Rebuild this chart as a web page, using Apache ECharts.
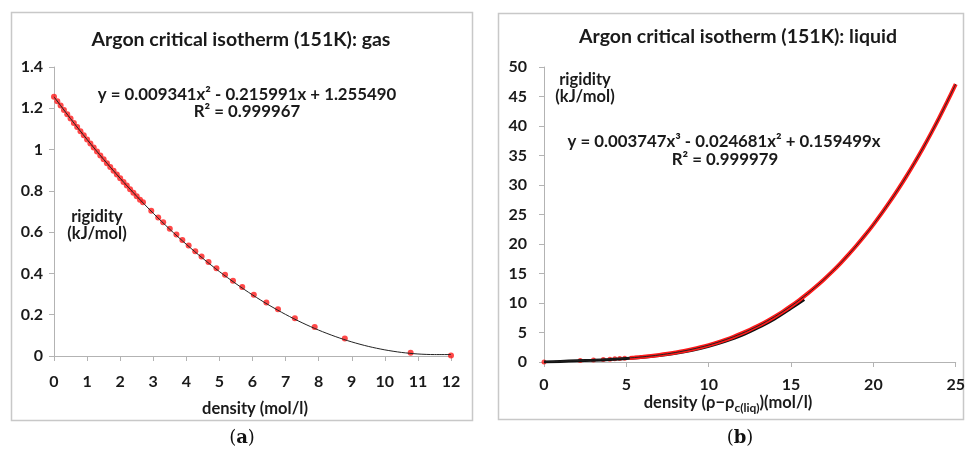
<!DOCTYPE html>
<html>
<head>
<meta charset="utf-8">
<script src="https://cdn.jsdelivr.net/npm/echarts@6/dist/echarts.min.js"></script>
<style>
  html, body { margin: 0; padding: 0; background: #fff; }
  #main { width: 968px; height: 452px; }
</style>
</head>
<body>
<div id="main"></div>
<script>
// (a) gas side: rigidity points
const gasX = [0, 0.1, 0.2, 0.3, 0.4, 0.5, 0.6, 0.7, 0.8, 0.9, 1.0, 1.1, 1.2, 1.3, 1.4, 1.5, 1.6, 1.7, 1.8, 1.9, 2.0, 2.1, 2.2, 2.3, 2.4, 2.5, 2.6,
  2.69, 2.94, 3.15, 3.30, 3.50, 3.70, 3.88, 4.07, 4.27, 4.46, 4.67, 4.91, 5.17, 5.41, 5.69, 6.04, 6.42, 6.77, 7.28, 7.88, 8.79, 10.78, 12.0];
const gasY = [1.256, 1.234, 1.213, 1.192, 1.171, 1.150, 1.129, 1.109, 1.089, 1.069, 1.049, 1.029, 1.010, 0.991, 0.971, 0.953, 0.934, 0.915, 0.897, 0.879, 0.861, 0.843, 0.826, 0.808, 0.791, 0.774, 0.757,
  0.745, 0.704, 0.671, 0.648, 0.617, 0.588, 0.562, 0.535, 0.507, 0.482, 0.455, 0.425, 0.393, 0.365, 0.334, 0.297, 0.259, 0.227, 0.183, 0.141, 0.085, 0.016, 0.002];
// fitted trendline (a)
const gasTrendX = [0, 0.5, 1, 1.5, 2, 2.5, 3, 3.5, 4, 4.5, 5, 5.5, 6, 6.5, 7, 7.5, 8, 8.5, 9, 9.5, 10, 10.5, 11, 11.5, 12];
const gasTrendY = [1.2555, 1.1498, 1.0488, 0.9525, 0.8609, 0.7739, 0.6916, 0.6139, 0.5410, 0.4727, 0.4090, 0.3502, 0.2959, 0.2463, 0.2013, 0.1610, 0.1254, 0.0945, 0.0682, 0.0466, 0.0297, 0.0174, 0.0098, 0.0069, 0.0069];

// (b) liquid side
const liqSparseX = [0, 2.2, 3.0, 3.6, 4.0, 4.3, 4.6, 4.9];
const liqSparseY = [0, 0.27, 0.36, 0.43, 0.48, 0.53, 0.58, 0.63];
const liqX = [5.2, 5.5, 6, 6.5, 7, 7.5, 8, 8.5, 9, 9.5, 10, 10.5, 11, 11.5, 12, 12.5, 13, 13.5, 14, 14.5, 15, 15.5, 16, 16.5,
  17, 17.5, 18, 18.5, 19, 19.5, 20, 20.5, 21, 21.5, 22, 22.5, 23, 23.5, 24, 24.5, 25];
const liqY = [0.69, 0.75, 0.88, 1.02, 1.19, 1.39, 1.62, 1.87, 2.17, 2.50, 2.87, 3.29, 3.76, 4.27, 4.84, 5.46, 6.13, 6.87, 7.68, 8.55, 9.49, 10.50, 11.58, 12.75,
  13.99, 15.31, 16.73, 18.23, 19.82, 21.51, 23.29, 25.18, 27.17, 29.26, 31.46, 33.78, 36.20, 38.75, 41.41, 44.20, 47.11];
// darker data band, slightly under the red points
const liqDarkX = [0, 1, 2, 3, 4, 5, 6, 7, 8, 9, 10, 11, 12, 13, 14, 15, 15.8];
const liqDarkY = [0, 0.1, 0.2, 0.3, 0.42, 0.58, 0.8, 1.08, 1.48, 2.0, 2.66, 3.5, 4.5, 5.8, 7.3, 9.1, 10.6];
// fitted trendline (b)
const liqTrendX = [0, 1, 2, 3, 4, 5, 6, 7, 8, 9, 10, 11, 12, 13, 14, 15, 16, 17, 18, 19, 20, 21, 22, 23, 24, 25];
const liqTrendY = [0, 0.14, 0.25, 0.36, 0.48, 0.65, 0.88, 1.19, 1.62, 2.17, 2.87, 3.76, 4.84, 6.13, 7.68, 9.49, 11.58, 13.99, 16.73, 19.82, 23.29, 27.17, 31.46, 36.20, 41.41, 47.11];

const FONT = 'Lato';
const zip = (xs, ys) => xs.map((x, i) => [x, ys[i]]);

let chart = echarts.init(document.getElementById('main'), null, { renderer: 'canvas' });

function axisStyle(extra, margin) {
  return Object.assign({
    type: 'value',
    splitLine: { show: false },
    axisLine: { show: true, lineStyle: { color: '#b3b3b3', width: 1 } },
    axisTick: { show: true, length: 5, lineStyle: { color: '#b3b3b3' } },
    axisLabel: { color: '#1a1a1a', fontFamily: FONT, fontWeight: 'bold', fontSize: 16, margin: margin }
  }, extra);
}

function txt(x, y, text, size, extra) {
  return {
    type: 'text', x: x, y: y,
    style: Object.assign({
      text: text, fontFamily: FONT, fontWeight: 'bold', fontSize: size,
      fill: '#1a1a1a', align: 'center', verticalAlign: 'middle'
    }, extra || {})
  };
}

let option = {
  animation: false,
  grid: [
    { left: 54, top: 67, width: 397, height: 289 },
    { left: 544, top: 67, width: 412, height: 295 }
  ],
  xAxis: [
    axisStyle({ gridIndex: 0, min: 0, max: 12, interval: 1 }, 18),
    axisStyle({ gridIndex: 1, min: 0, max: 25, interval: 5 }, 15)
  ],
  yAxis: [
    axisStyle({ gridIndex: 0, min: 0, max: 1.4, interval: 0.2 }, 11),
    axisStyle({ gridIndex: 1, min: 0, max: 50, interval: 5 }, 17)
  ],
  series: [
    {
      name: 'gas', type: 'scatter', xAxisIndex: 0, yAxisIndex: 0,
      data: zip(gasX, gasY), symbolSize: 6,
      itemStyle: { color: '#ff1a1a' }
    },
    {
      name: 'gas fit', type: 'line', xAxisIndex: 0, yAxisIndex: 0,
      data: zip(gasTrendX, gasTrendY), showSymbol: false, smooth: 0.3,
      lineStyle: { color: '#222', width: 1 }
    },
    {
      name: 'liquid dark', type: 'line', xAxisIndex: 1, yAxisIndex: 1,
      data: zip(liqDarkX, liqDarkY), showSymbol: false, smooth: 0.3,
      lineStyle: { color: '#111', width: 3 }
    },
    {
      name: 'liquid sparse', type: 'scatter', xAxisIndex: 1, yAxisIndex: 1,
      data: zip(liqSparseX, liqSparseY), symbolSize: 5,
      itemStyle: { color: '#ff1a1a' }
    },
    {
      name: 'liquid', type: 'line', xAxisIndex: 1, yAxisIndex: 1,
      data: zip(liqX, liqY), showSymbol: false, smooth: 0.3,
      lineStyle: { color: '#ff1a1a', width: 4 }
    },
    {
      name: 'liquid fit', type: 'line', xAxisIndex: 1, yAxisIndex: 1,
      data: zip(liqTrendX, liqTrendY), showSymbol: false, smooth: 0.3,
      lineStyle: { color: '#222', width: 1 }
    }
  ],
  graphic: [
    { type: 'rect', shape: { x: 11.5, y: 12.5, width: 461, height: 408 }, style: { fill: 'none', stroke: '#c8c8c8', lineWidth: 1.5 }, z: -1 },
    { type: 'rect', shape: { x: 498.5, y: 13.5, width: 465, height: 406 }, style: { fill: 'none', stroke: '#c8c8c8', lineWidth: 1.5 }, z: -1 },

    txt(241, 40, 'Argon critical isotherm (151K): gas', 19.5),
    txt(247, 95, 'y = 0.009341x² - 0.215991x + 1.255490', 16.8),
    txt(247, 112, 'R² = 0.999967', 16.8),
    txt(97, 217, 'rigidity', 16.5),
    txt(97, 234, '(kJ/mol)', 16.5),
    txt(255, 409, 'density (mol/l)', 16.5),

    txt(738, 37, 'Argon critical isotherm (151K): liquid', 19.5),
    txt(585, 80, 'rigidity', 16.5),
    txt(585, 97, '(kJ/mol)', 16.5),
    txt(724, 142, 'y = 0.003747x³ - 0.024681x² + 0.159499x', 16.8),
    txt(725, 160, 'R² = 0.999979', 16.8),
    {
      type: 'text', x: 728, y: 403,
      style: {
        text: '{a|density (ρ−ρ}{s|c(liq)}{a|)(mol/l)}',
        align: 'center', verticalAlign: 'middle',
        rich: {
          a: { fontFamily: FONT, fontWeight: 'bold', fontSize: 16.5, fill: '#1a1a1a', lineHeight: 22, verticalAlign: 'middle' },
          s: { fontFamily: FONT, fontWeight: 'bold', fontSize: 12, fill: '#1a1a1a', lineHeight: 22, verticalAlign: 'bottom', padding: [8, 0, 0, 0] }
        }
      }
    },

    {
      type: 'text', x: 242, y: 438,
      style: {
        text: '{p|(}{b|a}{p|)}', align: 'center', verticalAlign: 'middle',
        rich: {
          p: { fontFamily: 'DejaVu Serif', fontSize: 18, fill: '#111' },
          b: { fontFamily: 'DejaVu Serif', fontSize: 18, fontWeight: 'bold', fill: '#111' }
        }
      }
    },
    {
      type: 'text', x: 740, y: 438,
      style: {
        text: '{p|(}{b|b}{p|)}', align: 'center', verticalAlign: 'middle',
        rich: {
          p: { fontFamily: 'DejaVu Serif', fontSize: 18, fill: '#111' },
          b: { fontFamily: 'DejaVu Serif', fontSize: 18, fontWeight: 'bold', fill: '#111' }
        }
      }
    }
  ]
};

chart.setOption(option);
</script>
</body>
</html>
